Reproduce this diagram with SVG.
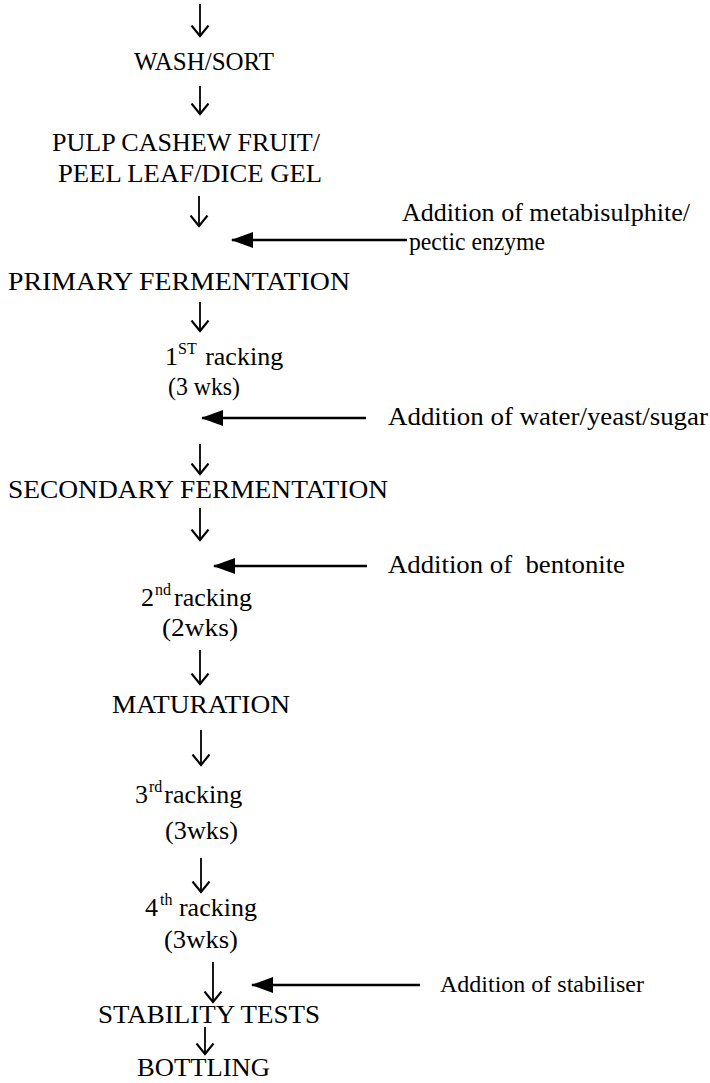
<svg xmlns="http://www.w3.org/2000/svg" width="710" height="1083" viewBox="0 0 710 1083">
<style>
text{font-family:"Liberation Serif","Times New Roman",serif;fill:#000;}
.t{font-size:26px;}
.s{font-size:24px;}
.sup{font-size:16px;}
.v{stroke:#000;stroke-width:1.8;fill:none;marker-end:url(#open);}
.h{stroke:#000;stroke-width:2.4;fill:none;marker-end:url(#solid);}
</style>
<defs>
<marker id="open" markerUnits="userSpaceOnUse" viewBox="0 0 13 20" refX="11" refY="10" markerWidth="13" markerHeight="20" orient="auto">
<path d="M0.5,1.5 L11,10 L0.5,18.5" fill="none" stroke="#000" stroke-width="2.1"/>
</marker>
<marker id="solid" markerUnits="userSpaceOnUse" viewBox="0 0 22 16" refX="21" refY="8" markerWidth="22" markerHeight="16" orient="auto">
<path d="M0,0 L22,8 L0,16 Z" fill="#000"/>
</marker>
</defs>
<g id="connectors">
<path class="v" d="M200,4 L200,36"/>
<path class="v" d="M200,86 L200,114"/>
<path class="v" d="M199,196 L199,226"/>
<path class="v" d="M200,302 L200,331"/>
<path class="v" d="M200,444 L200,474"/>
<path class="v" d="M200,508 L200,540"/>
<path class="v" d="M200,650 L200,684"/>
<path class="v" d="M201,730 L201,765"/>
<path class="v" d="M201,858 L201,892"/>
<path class="v" d="M213,962 L213,1002"/>
<path class="v" d="M205,1027 L205,1054"/>
<path class="h" d="M407,240 L232,240"/>
<path class="h" d="M366,418 L202,418"/>
<path class="h" d="M367,566 L214,566"/>
<path class="h" d="M420,985 L252,985"/>
</g>
<g id="wash-sort"><text class="t" x="134" y="70" textLength="140" lengthAdjust="spacingAndGlyphs">WASH/SORT</text></g>
<g id="pulp"><text class="t" x="52" y="151" textLength="268" lengthAdjust="spacingAndGlyphs">PULP CASHEW FRUIT/</text>
<text class="t" x="58" y="182" textLength="264" lengthAdjust="spacingAndGlyphs">PEEL LEAF/DICE GEL</text></g>
<g id="add-metabisulphite"><text class="t" x="402" y="221" textLength="288" lengthAdjust="spacingAndGlyphs">Addition of metabisulphite/</text>
<text class="t" x="409" y="250" textLength="136" lengthAdjust="spacingAndGlyphs">pectic enzyme</text></g>
<g id="primary-fermentation"><text class="t" x="8" y="290" textLength="342" lengthAdjust="spacingAndGlyphs">PRIMARY FERMENTATION</text></g>
<g id="racking-1"><text class="t" x="165" y="365">1<tspan class="sup" dy="-11">ST</tspan><tspan dx="2" dy="11"> racking</tspan></text>
<text class="t" x="168" y="395" textLength="72" lengthAdjust="spacingAndGlyphs">(3 wks)</text></g>
<g id="add-water"><text class="t" x="388" y="425" textLength="320" lengthAdjust="spacingAndGlyphs">Addition of water/yeast/sugar</text></g>
<g id="secondary-fermentation"><text class="t" x="8" y="498" textLength="380" lengthAdjust="spacingAndGlyphs">SECONDARY FERMENTATION</text></g>
<g id="add-bentonite"><text class="t" x="388" y="573" xml:space="preserve" textLength="237" lengthAdjust="spacingAndGlyphs">Addition of  bentonite</text></g>
<g id="racking-2"><text class="t" x="141" y="606">2<tspan class="sup" dx="1" dy="-11">nd</tspan><tspan dx="3" dy="11">racking</tspan></text>
<text class="t" x="162" y="636" textLength="76" lengthAdjust="spacingAndGlyphs">(2wks)</text></g>
<g id="maturation"><text class="t" x="112" y="713" textLength="178" lengthAdjust="spacingAndGlyphs">MATURATION</text></g>
<g id="racking-3"><text class="t" x="135" y="803">3<tspan class="sup" dx="1" dy="-11">rd</tspan><tspan dx="2" dy="11">racking</tspan></text>
<text class="t" x="165" y="839" textLength="73" lengthAdjust="spacingAndGlyphs">(3wks)</text></g>
<g id="racking-4"><text class="t" x="145" y="916">4<tspan class="sup" dx="2" dy="-11">th</tspan><tspan dy="11"> racking</tspan></text>
<text class="t" x="164" y="948" textLength="74" lengthAdjust="spacingAndGlyphs">(3wks)</text></g>
<g id="add-stabiliser"><text class="s" x="440" y="992">Addition of stabiliser</text></g>
<g id="stability-tests"><text class="t" x="98" y="1023" textLength="222" lengthAdjust="spacingAndGlyphs">STABILITY TESTS</text></g>
<g id="bottling"><text class="t" x="137" y="1076" textLength="133" lengthAdjust="spacingAndGlyphs">BOTTLING</text></g>
</svg>
